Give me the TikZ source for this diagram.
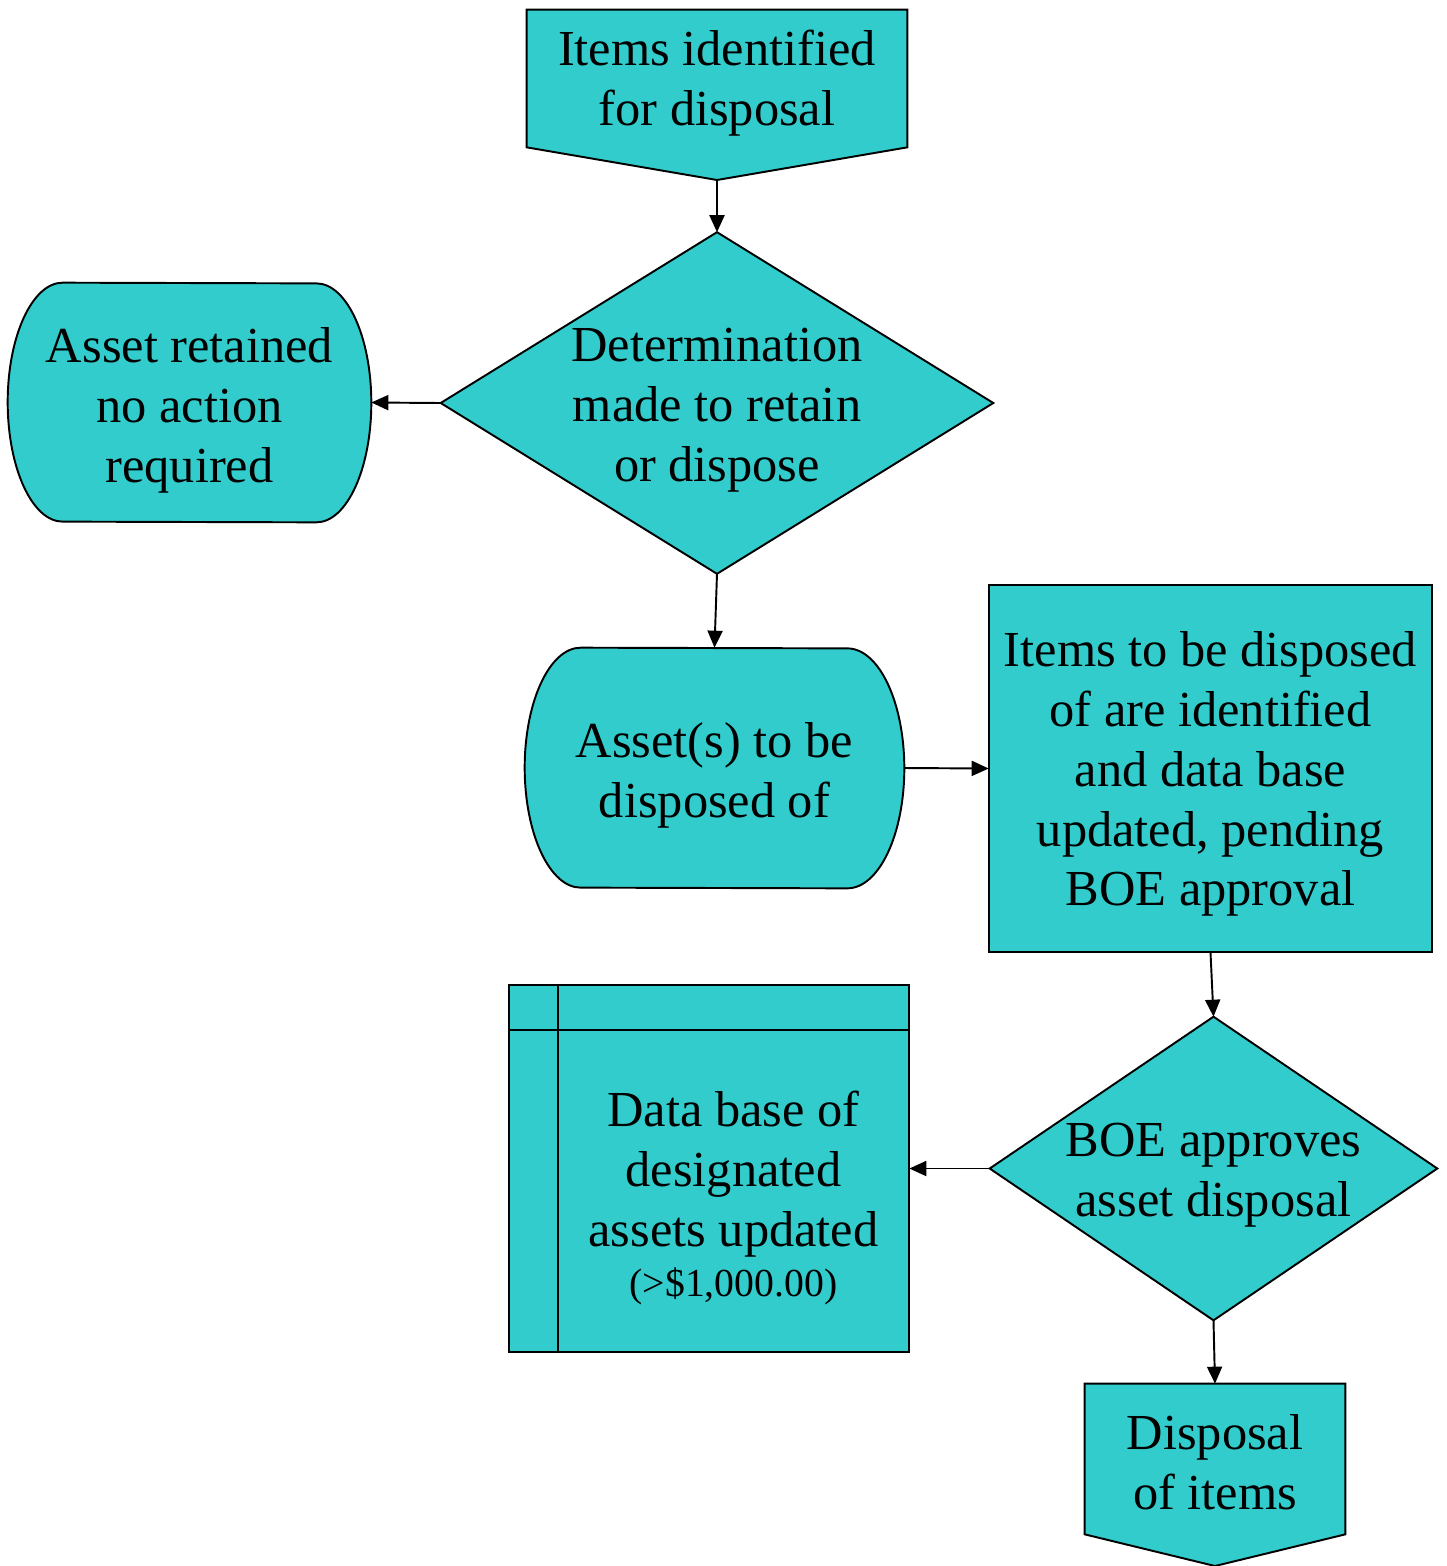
\documentclass[tikz,border=0pt]{standalone}
\usepackage{fontspec}
\setmainfont{Liberation Serif}
\usetikzlibrary{arrows.meta}
\definecolor{aqua}{RGB}{51,204,204}
\begin{document}
\begin{tikzpicture}[x=0.02cm,y=-0.02cm,
    font=\fontsize{28.7}{34.1}\selectfont,
    >={Triangle[length=0.34cm,width=0.3cm]},
    txt/.style={align=center,inner sep=0pt,draw=none},
    shp/.style={fill=aqua,draw=black,line width=1.1pt,line join=miter},
    link/.style={->,line width=1.1pt}]
  \useasboundingbox (0,0) rectangle (1447,1566);
  % nodes
  \node[txt,minimum width=7.6cm,minimum height=2.74cm] (top) at (717,78.5) {};
  \coordinate (toptip) at (717,180);
  \node[txt,minimum width=11.04cm,minimum height=6.82cm] (det) at (717,403) {};
  \node[txt,minimum width=7.26cm,minimum height=4.78cm] (retain) at (189.5,402.5) {};
  \node[txt,minimum width=7.58cm,minimum height=4.8cm] (tobe) at (714.5,768) {};
  \node[txt,minimum width=8.86cm,minimum height=7.34cm] (pending) at (1210.5,768.5) {};
  \node[txt,minimum width=8.94cm,minimum height=6.06cm] (boe) at (1213.5,1168.5) {};
  \node[txt,minimum width=7.02cm,minimum height=6.44cm] (db) at (733.5,1191) {};
  \node[txt,minimum width=5.2cm,minimum height=3cm] (disp) at (1215,1459) {};
  \coordinate (disptip) at (1215,1566);
  % shapes
  \filldraw[shp] (top.north west) -- (top.north east) -- (top.south east)
    -- (toptip) -- (top.south west) -- cycle;
  \filldraw[shp] (det.north) -- (det.east) -- (det.south) -- (det.west) -- cycle;
  \filldraw[shp] ([xshift=1.1cm]retain.north west)
    arc[start angle=90,end angle=270,x radius=1.1cm,y radius=2.39cm]
    -- ([xshift=-1.1cm]retain.south east)
    arc[start angle=-90,end angle=90,x radius=1.1cm,y radius=2.39cm] -- cycle;
  \filldraw[shp] ([xshift=1.12cm]tobe.north west)
    arc[start angle=90,end angle=270,x radius=1.12cm,y radius=2.4cm]
    -- ([xshift=-1.14cm]tobe.south east)
    arc[start angle=-90,end angle=90,x radius=1.14cm,y radius=2.4cm] -- cycle;
  \filldraw[shp] (pending.south west) rectangle (pending.north east);
  \filldraw[shp] (boe.north) -- (boe.east) -- (boe.south) -- (boe.west) -- cycle;
  \filldraw[shp] ([shift={(-49,-45)}]db.north west) rectangle (db.south east);
  \draw[shp,fill=none] ([xshift=-0.98cm]db.north west) -- (db.north east);
  \draw[shp,fill=none] ([yshift=0.9cm]db.north west) -- (db.south west);
  \filldraw[shp] (disp.north west) -- (disp.north east) -- (disp.south east)
    -- (disptip) -- (disp.south west) -- cycle;
  % texts
  \node[txt] at ([yshift=-0.1cm]top) {Items identified\\for disposal};
  \node[txt] at ([yshift=-0.14cm]det) {Determination\\made to retain\\or dispose};
  \node[txt] at ([yshift=-0.15cm]retain) {Asset retained\\no action\\required};
  \node[txt] at ([yshift=-0.14cm]tobe) {Asset(s) to be\\disposed of};
  \node[txt] at ([yshift=-0.11cm]pending) {Items to be disposed\\of are identified\\and data base\\updated, pending\\BOE approval};
  \node[txt] at ([yshift=-0.13cm]boe) {BOE approves\\asset disposal};
  \node[txt] at ([yshift=-0.14cm]db) {Data base of\\designated\\assets updated\\[-5.7pt]{\fontsize{22.6}{27}\selectfont (>\$1,000.00)}};
  \node[txt] at ([yshift=-0.06cm]disp) {Disposal\\of items};
  % connectors
  \draw[link] (toptip) -- (det.north);
  \draw[link] (det.west) -- (retain.east);
  \draw[link] (det.south) -- (tobe.north);
  \draw[link] (tobe.east) -- (pending.west);
  \draw[link] (pending.south) -- (boe.north);
  \draw[link] (boe.west) -- (boe.west -| db.east);
  \draw[link] (boe.south) -- (disp.north);
\end{tikzpicture}
\end{document}
